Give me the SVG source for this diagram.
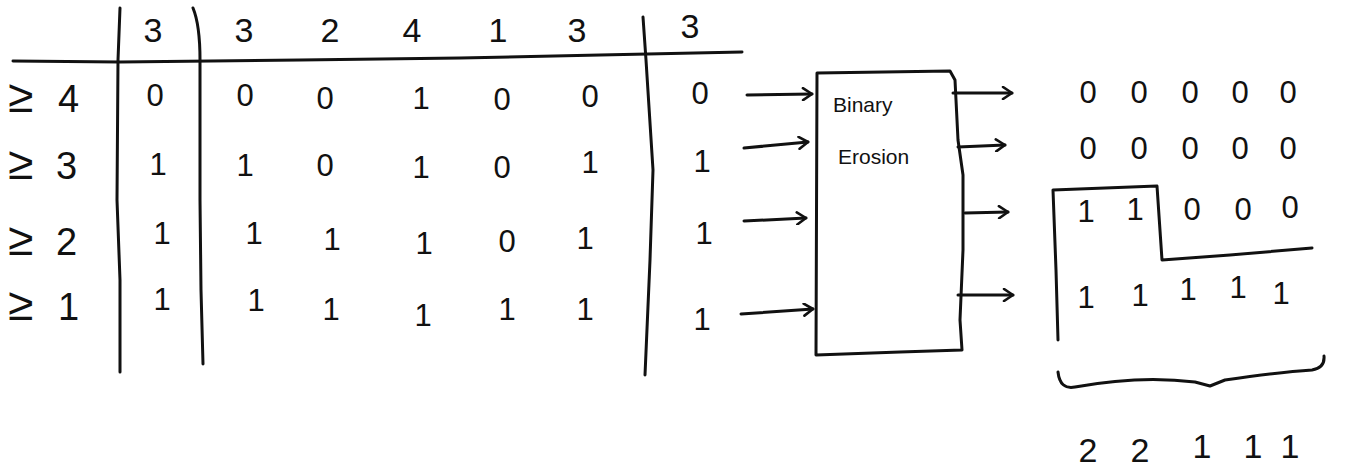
<svg xmlns="http://www.w3.org/2000/svg" width="1364" height="469" viewBox="0 0 1364 469">
<style>
.ln{fill:none;stroke:#111;stroke-width:3;stroke-linecap:round;stroke-linejoin:round}
.t{font-family:"Liberation Sans",Arial,sans-serif;fill:#111;text-anchor:middle}
.d{font-size:31px}
.h{font-size:34px}
.lab{font-size:38px;text-anchor:start}
.ge{font-size:46px}
.o{font-size:31px}
.bx{font-size:21px;text-anchor:start}
</style>
<defs>
<marker id="ah" markerWidth="14" markerHeight="14" refX="11" refY="7" orient="auto" markerUnits="userSpaceOnUse">
<path d="M2,1 L11,7 L2,13" fill="none" stroke="#111" stroke-width="2.6" stroke-linecap="round" stroke-linejoin="round"/>
</marker>
</defs>
<g id="table">
<path class="ln" d="M13,61 L120,62 L300,60 L460,58 L600,55 L742,52"/>
<path class="ln" d="M120,8 L118,60 L117,200 L120,280 L120,372"/>
<path class="ln" d="M193,8 Q200,25 200,60 L200,200 L201,290 L203,364"/>
<path class="ln" d="M643,17 L646,60 L653,170 L650,260 L645,375"/>
<g id="header">
<text class="t h" x="153" y="42">3</text>
<text class="t h" x="244" y="42">3</text>
<text class="t h" x="330" y="42">2</text>
<text class="t h" x="412" y="42">4</text>
<text class="t h" x="498" y="42">1</text>
<text class="t h" x="577" y="42">3</text>
<text class="t h" x="690" y="38">3</text>
</g>
<g id="labels">
<text class="t lab" x="8" y="112"><tspan class="ge">≥</tspan><tspan x="58">4</tspan></text>
<text class="t lab" x="8" y="179"><tspan class="ge">≥</tspan><tspan x="56">3</tspan></text>
<text class="t lab" x="8" y="255"><tspan class="ge">≥</tspan><tspan x="56">2</tspan></text>
<text class="t lab" x="8" y="320"><tspan class="ge">≥</tspan><tspan x="58">1</tspan></text>
</g>
<g id="row4">
<text class="t d" x="155" y="106">0</text>
<text class="t d" x="245" y="106">0</text>
<text class="t d" x="325" y="109">0</text>
<text class="t d" x="421" y="109">1</text>
<text class="t d" x="502" y="110">0</text>
<text class="t d" x="590" y="107">0</text>
<text class="t d" x="700" y="104">0</text>
</g>
<g id="row3">
<text class="t d" x="158" y="175">1</text>
<text class="t d" x="245" y="176">1</text>
<text class="t d" x="325" y="176">0</text>
<text class="t d" x="421" y="178">1</text>
<text class="t d" x="502" y="178">0</text>
<text class="t d" x="590" y="173">1</text>
<text class="t d" x="702" y="172">1</text>
</g>
<g id="row2">
<text class="t d" x="162" y="244">1</text>
<text class="t d" x="254" y="244">1</text>
<text class="t d" x="332" y="250">1</text>
<text class="t d" x="424" y="254">1</text>
<text class="t d" x="507" y="252">0</text>
<text class="t d" x="585" y="249">1</text>
<text class="t d" x="704" y="244">1</text>
</g>
<g id="row1">
<text class="t d" x="162" y="310">1</text>
<text class="t d" x="256" y="311">1</text>
<text class="t d" x="331" y="320">1</text>
<text class="t d" x="423" y="326">1</text>
<text class="t d" x="507" y="320">1</text>
<text class="t d" x="585" y="320">1</text>
<text class="t d" x="702" y="330">1</text>
</g>
</g>
<g id="box">
<path class="ln" d="M817,73 L950,71 L955,80 L958,140 L963,175 L963,250 L960,320 L962,350 L900,352 L816,355 Z"/>
<text class="t bx" x="833" y="112">Binary</text>
<text class="t bx" x="838" y="164">Erosion</text>
</g>
<g id="output">
<g id="out-row1">
<text class="t o" x="1088" y="103">0</text>
<text class="t o" x="1139" y="103">0</text>
<text class="t o" x="1190" y="103">0</text>
<text class="t o" x="1240" y="103">0</text>
<text class="t o" x="1288" y="103">0</text>
</g>
<g id="out-row2">
<text class="t o" x="1088" y="159">0</text>
<text class="t o" x="1139" y="159">0</text>
<text class="t o" x="1190" y="159">0</text>
<text class="t o" x="1240" y="159">0</text>
<text class="t o" x="1288" y="159">0</text>
</g>
<g id="out-row3">
<text class="t o" x="1086" y="222">1</text>
<text class="t o" x="1135" y="220">1</text>
<text class="t o" x="1192" y="220">0</text>
<text class="t o" x="1243" y="220">0</text>
<text class="t o" x="1290" y="218">0</text>
</g>
<g id="out-row4">
<text class="t o" x="1086" y="308">1</text>
<text class="t o" x="1140" y="306">1</text>
<text class="t o" x="1188" y="300">1</text>
<text class="t o" x="1238" y="298">1</text>
<text class="t o" x="1281" y="304">1</text>
</g>
<path class="ln" d="M1058,340 L1056,270 L1053,190 L1157,186 L1162,260 L1230,255 L1312,248"/>
</g>
<g id="brace">
<path class="ln" d="M1058,372 Q1060,390 1075,387 Q1140,375 1195,382 L1210,386 L1225,380 Q1280,372 1312,370 Q1325,368 1324,356"/>
<text class="t h" x="1088" y="462">2</text>
<text class="t h" x="1140" y="462">2</text>
<text class="t h" x="1202" y="458">1</text>
<text class="t h" x="1253" y="458">1</text>
<text class="t h" x="1290" y="458">1</text>
</g>
<g id="connectors">
<path class="ln" d="M747,95 L812,94" marker-end="url(#ah)"/>
<path class="ln" d="M744,148 L808,142" marker-end="url(#ah)"/>
<path class="ln" d="M744,221 L806,218" marker-end="url(#ah)"/>
<path class="ln" d="M741,314 L813,309" marker-end="url(#ah)"/>
<path class="ln" d="M953,93 L1012,93" marker-end="url(#ah)"/>
<path class="ln" d="M958,147 L1005,145" marker-end="url(#ah)"/>
<path class="ln" d="M965,213 L1008,212" marker-end="url(#ah)"/>
<path class="ln" d="M958,295 L1013,295" marker-end="url(#ah)"/>
</g>
</svg>
